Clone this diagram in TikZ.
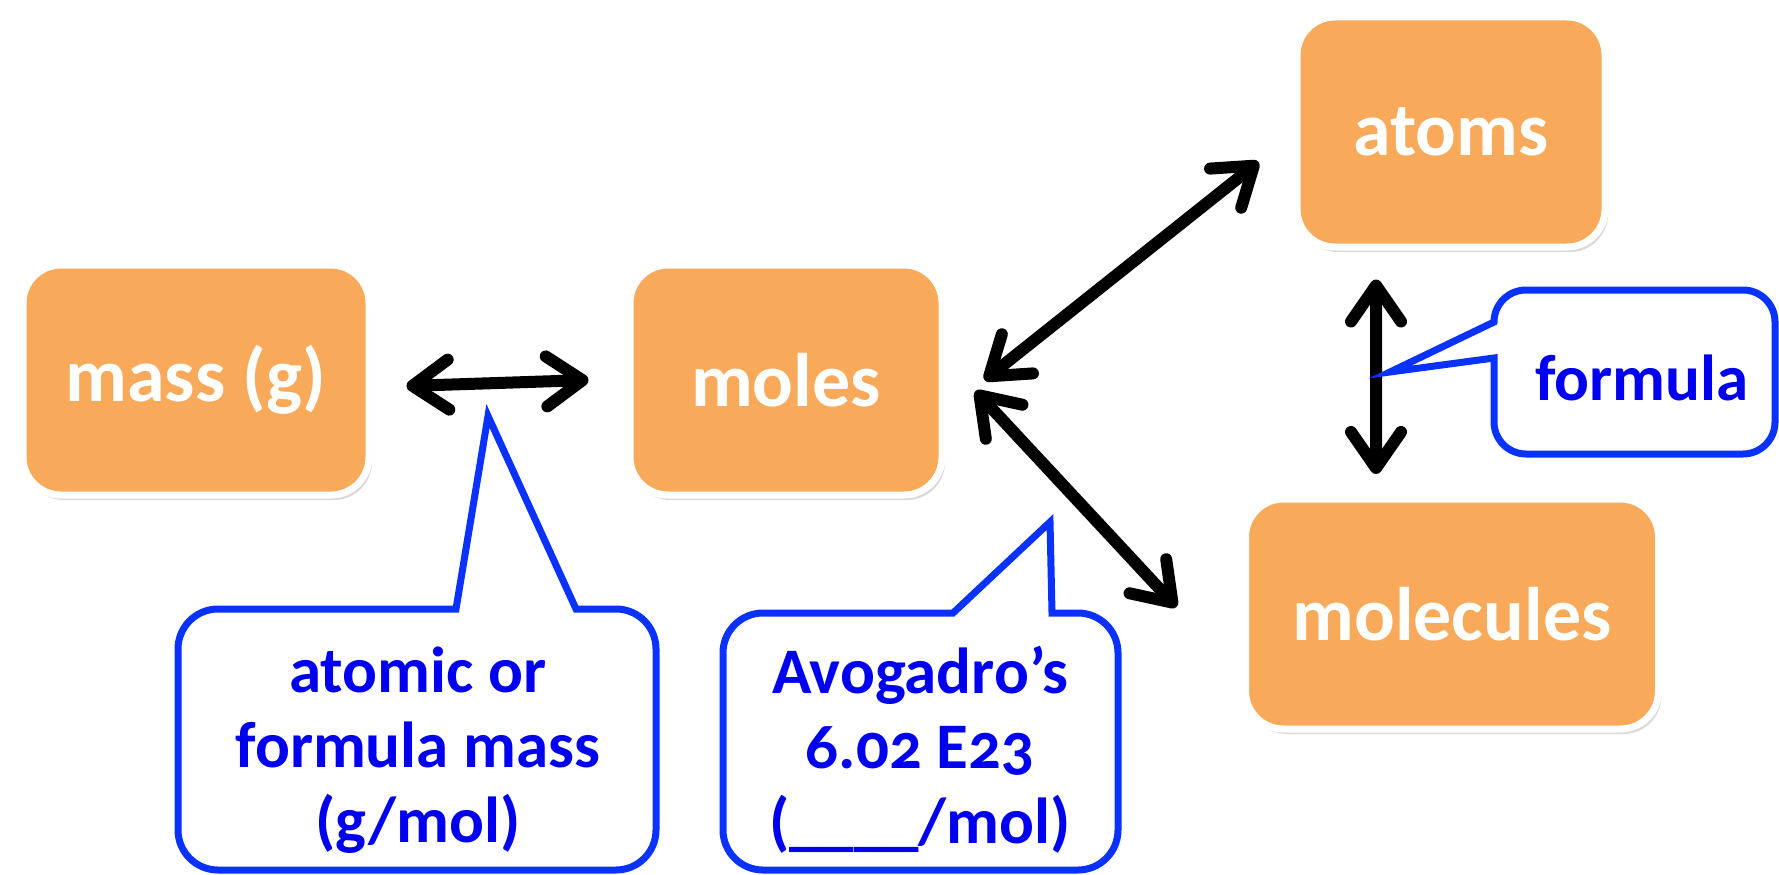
\documentclass[tikz,border=0pt]{standalone}
\usepackage{fontspec}
\setmainfont{Carlito}[Numbers=OldStyle]
\usepackage{tikz}
\usetikzlibrary{arrows.meta,calc,positioning,shadows}
\definecolor{boxorange}{HTML}{F8A95A}
\definecolor{noteline}{HTML}{0A32FF}
\definecolor{notetext}{HTML}{0000F0}

\begin{document}
\begin{tikzpicture}[>={Straight Barb[length=0.36cm,width=0.5cm,round]},
                    node distance=5.9cm,font=\bfseries]
\tikzstyle{every node}=[inner sep=0pt]
\tikzstyle{quantity}=[rectangle,rounded corners=0.38cm,fill=boxorange,draw=white,line width=0.07cm,
      minimum height=2.3cm,text=white,font=\fontsize{21.6}{26}\selectfont\bfseries,
      drop shadow={shadow xshift=0.03cm,shadow yshift=-0.05cm,opacity=0.3}]
\tikzstyle{note}=[text=notetext,align=center,font=\fontsize{18.5}{21.3}\selectfont\bfseries]
\tikzstyle{bubble}=[draw=noteline,line width=0.07cm,line join=miter]
\tikzstyle{link}=[<->,line width=0.12cm,line cap=round]
\useasboundingbox (0,0) rectangle (17.79,8.74);

\node [quantity,minimum width=3.46cm] (mass) at (1.96,4.94) {mass (g)};
\node [quantity,minimum width=3.12cm] [right of=mass] (moles) {moles};
\node [quantity,minimum width=3.08cm] [right of=moles,xshift=0.75cm,yshift=2.48cm] (atoms) {atoms};
\node [quantity,minimum width=4.13cm] [right of=moles,xshift=0.76cm,yshift=-2.34cm] (molecules) {molecules};

\path [link] ($(mass.east)+(0.34,-0.06)$) edge ($(moles.west)+(-0.38,0)$)
             ($(moles.east)+(0.39,0)$) edge ($(atoms.west)+(-0.35,-0.30)$)
             ($(moles.east)+(0.30,-0.11)$) edge ($(molecules.west)+(-0.655,0.07)$)
             ($(atoms.south)+(-0.75,-0.29)$) edge ($(molecules.north)+(-0.76,0.215)$);

% callouts
\coordinate (massptr) at (4.88,4.58);
\coordinate (avoptr) at (10.50,3.52);
\coordinate (formulaptr) at (13.90,5.02);
\draw [bubble] (4.56,2.65) -- (massptr) -- (5.76,2.65) -- (6.16,2.65)
   arc[start angle=90,end angle=0,radius=0.4] -- (6.56,0.44)
   arc[start angle=0,end angle=-90,radius=0.4] -- (2.18,0.04)
   arc[start angle=270,end angle=180,radius=0.4] -- (1.78,2.25)
   arc[start angle=180,end angle=90,radius=0.4] -- cycle;
\draw [bubble] (9.53,2.61) -- (avoptr) -- (10.52,2.61) -- (10.78,2.61)
   arc[start angle=90,end angle=0,radius=0.4] -- (11.18,0.44)
   arc[start angle=0,end angle=-90,radius=0.4] -- (7.63,0.04)
   arc[start angle=270,end angle=180,radius=0.4] -- (7.23,2.21)
   arc[start angle=180,end angle=90,radius=0.4] -- cycle;
\draw [bubble] (14.94,5.16) -- (formulaptr) -- (14.94,5.52)
   arc[start angle=180,end angle=90,radius=0.32] -- (17.43,5.84)
   arc[start angle=90,end angle=0,radius=0.32] -- (17.75,4.52)
   arc[start angle=0,end angle=-90,radius=0.32] -- (15.26,4.20)
   arc[start angle=270,end angle=180,radius=0.32] -- cycle;

\node [note] (massnote) at (4.18,1.24) {atomic or\\formula mass\\(g/mol)};
\node [note] (avonote) at (9.20,1.24) {Avogadro’s\\6.02 E23\\(\_\_\_\_/mol)};
\node [note] (formulanote) at (16.42,4.96) {formula};
\end{tikzpicture}
\end{document}
